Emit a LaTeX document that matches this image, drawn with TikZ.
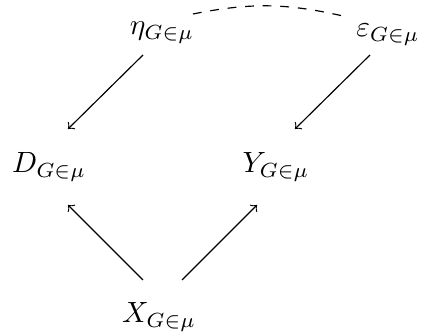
\documentclass[tikz,border=0pt]{standalone}
\usepackage{amsmath}
\usepackage{tikz}

\begin{document}
\begin{tikzpicture}[
        var/.style={inner sep=0pt, anchor=base},
        arrow/.style={->},
        link/.style={dashed}
      ]
        \useasboundingbox (0, 0) rectangle (5.1, 4.02);
        \node[var] (eta) at (1.944, 3.6) {$\eta_{G\in\mu}$};
        \node[var] (eps) at (4.656, 3.576) {$\varepsilon_{G\in\mu}$};
        \node[var] (D) at (0.588, 1.944) {$D_{G\in\mu}$};
        \node[var] (Y) at (3.312, 1.944) {$Y_{G\in\mu}$};
        \node[var] (X) at (1.908, 0.144) {$X_{G\in\mu}$};
        \draw[arrow] ([shift={(-0.192, 0.516)}]X.base) -- ([shift={(0.228, -0.384)}]D.base);
        \draw[arrow] ([shift={(0.276, 0.516)}]X.base) -- ([shift={(-0.228, -0.384)}]Y.base);
        \draw[arrow] ([shift={(-0.228, -0.24)}]eta.base) -- ([shift={(0.228, 0.528)}]D.base);
        \draw[arrow] ([shift={(-0.216, -0.216)}]eps.base) -- ([shift={(0.228, 0.528)}]Y.base);
        \draw[link] ([shift={(0.372, 0.252)}]eta.base) to[bend left=12] ([shift={(-0.54, 0.252)}]eps.base);
      \end{tikzpicture}
\end{document}
